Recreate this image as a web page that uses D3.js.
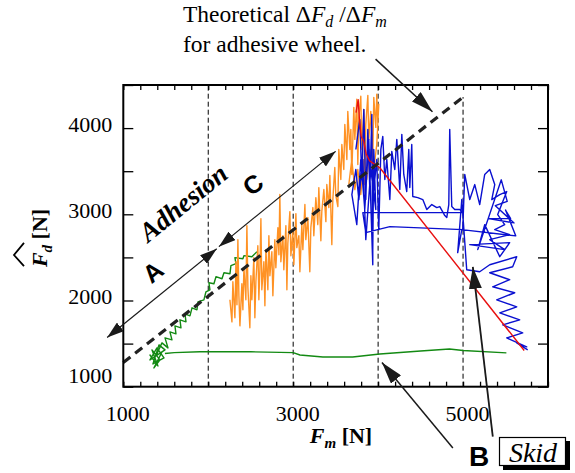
<!DOCTYPE html>
<html>
<head>
<meta charset="utf-8">
<script src="https://cdn.jsdelivr.net/npm/d3@7"></script>
<style>
body { margin: 0; background: #fff; }
svg { display: block; }
</style>
</head>
<body>
<svg width="575" height="473"></svg>
<script>
// tick labels
const xTicks = [1000, 3000, 5000]
const yTicks = [1000, 2000, 3000, 4000]
const gridX = [2000, 3000, 4000]
const gridXShort = [5000]

// theoretical dF_d / dF_m for an adhesive wheel
const theory = [[1000, 1280], [5000, 4360]]

// measured traces [F_m, F_d]
const greenRise = [[1373,1287],[1314,1368],[1408,1241],[1338,1427],[1432,1311],[1361,1218],[1455,1403],[1314,1311],
  [1396,1450],[1479,1334],[1349,1264],[1420,1485],[1491,1427],[1385,1357],[1455,1508],[1526,1450],[1491,1566],
  [1573,1543],[1549,1636],[1620,1613],[1608,1706],[1679,1683],[1667,1776],[1738,1752],[1726,1845],[1785,1822],
  [1809,1915],[1867,1892],[1879,1985],[1949,2008],[1973,2101],[2020,2124],[2008,2206],[2067,2194],[2091,2276],
  [2162,2252],[2185,2322],[2256,2311],[2267,2404],[2326,2427],[2314,2497],[2408,2485],[2420,2520],[2514,2508],
  [2573,2566]]

const greenFlat = [[1490,1385],[1600,1395],[1900,1405],[2500,1405],[3000,1395],[3080,1368],[3350,1345],
  [3700,1345],[4020,1380],[4500,1415],[4840,1438],[5000,1420],[5510,1392]]

const orange = [[2255,2008],[2279,1752],[2290,2217],[2314,1799],[2326,2450],[2338,1950],[2349,2706],[2361,2055],
  [2373,1706],[2396,2194],[2408,1892],[2420,2380],[2443,2008],[2455,2869],[2467,2148],[2490,1683],[2502,2287],
  [2514,2008],[2537,2497],[2549,1799],[2561,2217],[2584,2636],[2596,2008],[2608,2357],[2620,2950],[2631,2124],
  [2655,2450],[2667,1938],[2679,2590],[2702,2124],[2714,2752],[2726,2287],[2749,2566],[2761,2055],[2784,2706],
  [2796,2380],[2820,2845],[2832,2531],[2843,3229],[2855,2450],[2879,2752],[2890,2357],[2914,2869],[2926,2124],
  [2937,2659],[2961,3031],[2973,2520],[2996,2799],[3008,2415],[3032,3008],[3043,2613],[3067,2752],[3079,2334],
  [3102,2880],[3114,2590],[3138,3113],[3149,2706],[3173,2962],[3196,2334],[3208,2845],[3232,3078],[3243,2752],
  [3267,3194],[3290,2880],[3302,3310],[3326,2694],[3337,3031],[3361,3287],[3385,2915],[3396,3345],[3420,3078],
  [3432,3450],[3455,2648],[3467,3171],[3490,3543],[3502,3217],[3526,3090],[3537,3752],[3561,3404],[3573,3810],
  [3596,3520],[3608,4043],[3632,3636],[3643,4194],[3667,3752],[3679,3985],[3690,3462],[3714,4241],[3726,3869],
  [3749,4334],[3761,3578],[3773,4124],[3796,4369],[3808,3752],[3832,4217],[3843,3345],[3855,4043],[3879,4380],
  [3890,3869],[3914,4194],[3937,3636],[3949,4357],[3973,4008],[3984,4392],[3996,4101],[4008,4276],[3984,3810],
  [3949,3520],[3902,3752],[3867,3404],[3832,3636],[3796,3229],[3761,3520],[3726,3287],[3690,3636],[3655,3345]]

const blue = [[3738,3752],[3784,4101],[3808,3404],[3832,4217],[3855,3171],[3879,3985],[3902,3287],[3926,4159],
  [3937,2590],[3949,3752],[3973,3055],[3914,3520],[3855,2706],[3820,3636],[3773,3171],[3738,3520],[3691,3229],
  [3749,2880],[3796,3636],[3843,3055],[3890,3869],[3937,2415],[3937,3171],[3984,3636],[4008,2822],[4032,3752],
  [4055,3903],[4079,3404],[4102,3636],[4138,3171],[4161,3729],[4196,3520],[4220,3869],[4255,3287],[4279,3927],
  [4302,3462],[4337,3264],[4361,3752],[4373,3310],[4396,3810],[4408,3206],[4467,3194],[4526,3171],[4573,3055],
  [4632,3113],[4691,3078],[4726,3090],[4785,2985],[4808,2962],[4832,3113],[4843,3985],[4867,3090],[4902,3055],
  [4961,3055],[4996,3020],[3820,3020],[3855,2787],[4138,2857],[4996,2822],[5020,3462],[5079,3171],[5138,3345],
  [5196,3113],[5255,3462],[5314,3520],[5373,3345],[5338,3171],[5432,3229],[5514,3264],[5408,2997],[5490,2880],
  [5373,2822],[5549,2764],[5314,2706],[5490,2590],[5079,2648],[5549,2671],[5432,2508],[5255,2880],[5173,2590],
  [5450,3400],[5520,3150],[5380,3100],[5600,2900],[5300,2950],[5560,2950],[5500,3050],[5620,2750],
  [4985,2822],[4937,2555],[4985,3171],[5043,2357],[5196,2334],[5314,2415],[5632,2508],[5584,2392],[5314,2322],
  [5549,2241],[5349,2159],[5608,2090],[5396,2008],[5632,1927],[5432,1857],[5667,1776],[5467,1717],[5702,1624],
  [5514,1566],[5749,1462],[5632,1508],[5761,1427]]

const red = [[3740,4180],[3765,4330],[3780,4100],[3800,3900],[3830,3850],[3860,3700],[3900,3620],[4020,3540],[5720,1420]]

// annotation anchors in data units
const theoryArrow = [[3970, 4800], [4640, 4190]]
const bArrow = [[4880, 290], [4045, 1280]]
const skidArrow = [[5350, 420], [5115, 2390]]
const arrowA = [[810, 1570], [2100, 2600]]
const arrowC = [[2125, 2625], [3500, 3730]]
const labelA = [1350, 2330]
const labelC = [2526, 3345]
const labelAdhesion = [1703, 3136]

const serif = '"Liberation Serif", "Times New Roman", Times, serif'
const sans = '"Liberation Sans", Arial, Helvetica, sans-serif'

const svg = d3.select('svg')
const plot = {left: 123.3, right: 548, top: 85, bottom: 386.7}

const x = d3.scaleLinear().domain([1000, 6000]).range([plot.left, plot.right])
const y = d3.scaleLinear().domain([1000, 4500]).range([plot.bottom, plot.top])

const defs = svg.append('defs')
const marker = (id, w, l) => {
  defs.append('marker')
    .attr('id', id)
    .attr('viewBox', `0 ${-w / 2} ${l} ${w}`)
    .attr('refX', l).attr('refY', 0)
    .attr('markerWidth', l).attr('markerHeight', w)
    .attr('markerUnits', 'userSpaceOnUse')
    .attr('orient', 'auto-start-reverse')
    .append('path')
    .attr('d', `M0,${-w / 2}L${l},0L0,${w / 2}Z`)
    .attr('fill', '#1a1a1a')
}
marker('big', 13, 22)
marker('small', 11, 17)

// vertical guides
svg.append('g').selectAll('line')
  .data(gridX)
  .enter().append('line')
  .attr('x1', d => x(d)).attr('x2', d => x(d))
  .attr('y1', y(1000)).attr('y2', y(4500))
  .attr('stroke', '#000').attr('stroke-width', 1).attr('stroke-dasharray', '5,3')

svg.append('g').selectAll('line')
  .data(gridXShort)
  .enter().append('line')
  .attr('x1', d => x(d)).attr('x2', d => x(d))
  .attr('y1', y(1000)).attr('y2', y(theory[1][1]))
  .attr('stroke', '#000').attr('stroke-width', 1).attr('stroke-dasharray', '5,3')

const line = d3.line().x(d => x(d[0])).y(d => y(d[1]))

const traces = [
  {data: greenFlat, color: '#138a13'},
  {data: greenRise, color: '#138a13'},
  {data: orange, color: '#ff9224'},
  {data: blue, color: '#0a10d0'},
  {data: red, color: '#e81010'}
]
svg.append('g').selectAll('path')
  .data(traces)
  .enter().append('path')
  .attr('d', d => line(d.data))
  .attr('fill', 'none')
  .attr('stroke', d => d.color)
  .attr('stroke-width', 1.4)
  .attr('stroke-linejoin', 'round')

// theoretical line
svg.append('path')
  .attr('d', line(theory))
  .attr('fill', 'none')
  .attr('stroke', '#222')
  .attr('stroke-width', 3.2)
  .attr('stroke-dasharray', '9,6')

// frame and ticks
svg.append('rect')
  .attr('x', plot.left).attr('y', plot.top)
  .attr('width', plot.right - plot.left).attr('height', plot.bottom - plot.top)
  .attr('fill', 'none').attr('stroke', '#000').attr('stroke-width', 2)

const minorX = d3.range(1000, 6001, 200)
const minorY = d3.range(1000, 4501, 500)

const tickStyle = g => {
  g.select('.domain').remove()
  g.selectAll('line').attr('stroke', '#000').attr('stroke-width', 1.3)
}
svg.append('g').attr('transform', `translate(0,${plot.bottom})`)
  .call(d3.axisBottom(x).tickValues(minorX).tickSizeInner(-5).tickSizeOuter(0).tickFormat(''))
  .call(tickStyle)
svg.append('g').attr('transform', `translate(0,${plot.top})`)
  .call(d3.axisTop(x).tickValues(minorX).tickSizeInner(-5).tickSizeOuter(0).tickFormat(''))
  .call(tickStyle)
svg.append('g').attr('transform', `translate(${plot.left},0)`)
  .call(d3.axisLeft(y).tickValues(minorY).tickSizeInner(-10).tickSizeOuter(0).tickFormat(''))
  .call(tickStyle)
svg.append('g').attr('transform', `translate(${plot.right},0)`)
  .call(d3.axisRight(y).tickValues(minorY).tickSizeInner(-10).tickSizeOuter(0).tickFormat(''))
  .call(tickStyle)

// tick labels
const xLab = svg.append('g').attr('transform', `translate(0,${plot.bottom})`)
  .call(d3.axisBottom(x).tickValues(xTicks).tickSize(0).tickPadding(19).tickFormat(d3.format('d')))
xLab.select('.domain').remove()
xLab.selectAll('text').attr('font-family', serif).attr('font-size', 22).attr('fill', '#000').attr('dx', 4)

const yLab = svg.append('g').attr('transform', `translate(${plot.left},0)`)
  .call(d3.axisLeft(y).tickValues(yTicks).tickSize(0).tickPadding(11).tickFormat(d3.format('d')))
yLab.select('.domain').remove()
yLab.selectAll('text').attr('font-family', serif).attr('font-size', 22).attr('fill', '#000')
  .attr('dy', d => d === 1000 ? '-0.2em' : '0.15em')

// axis titles
const xt = svg.append('text')
  .attr('x', 341).attr('y', 443)
  .attr('text-anchor', 'middle')
  .attr('font-family', serif).attr('font-weight', 'bold').attr('font-size', 22)
xt.append('tspan').attr('font-style', 'italic').text('F')
xt.append('tspan').attr('font-style', 'italic').attr('font-size', 15).attr('dy', 5).text('m')
xt.append('tspan').attr('dy', -5).text(' [N]')

const yg = svg.append('g').attr('transform', 'translate(47,238) rotate(-90)')
const yt = yg.append('text')
  .attr('x', 0).attr('y', 0)
  .attr('text-anchor', 'middle')
  .attr('font-family', serif).attr('font-weight', 'bold').attr('font-size', 22)
yt.append('tspan').attr('font-style', 'italic').text('F')
yt.append('tspan').attr('font-style', 'italic').attr('font-size', 15).attr('dy', 5).text('d')
yt.append('tspan').attr('dy', -5).text(' [N]')
const fStart = yt.node().getStartPositionOfChar(0).x
const fEnd = yt.node().getEndPositionOfChar(1).x
yg.append('path')
  .attr('d', `M${fStart + 1},-23L${(fStart + fEnd) / 2 + 1},-33L${fEnd + 2},-23`)
  .attr('fill', 'none').attr('stroke', '#000').attr('stroke-width', 1.8)

// top annotation
const t1 = svg.append('text')
  .attr('x', 183).attr('y', 22)
  .attr('font-family', serif).attr('font-size', 23.5)
t1.append('tspan').text('Theoretical \u0394')
t1.append('tspan').attr('font-style', 'italic').text('F')
t1.append('tspan').attr('font-style', 'italic').attr('font-size', 16).attr('dy', 5).text('d')
t1.append('tspan').attr('dy', -5).text(' /\u0394')
t1.append('tspan').attr('font-style', 'italic').text('F')
t1.append('tspan').attr('font-style', 'italic').attr('font-size', 16).attr('dy', 5).text('m')
svg.append('text')
  .attr('x', 183).attr('y', 52)
  .attr('font-family', serif).attr('font-size', 23.5)
  .text('for adhesive wheel.')

// arrows
const arrow = (pts, start, end, w) => svg.append('path')
  .attr('d', line(pts))
  .attr('stroke', '#1a1a1a').attr('stroke-width', w).attr('fill', 'none')
  .attr('marker-start', start ? `url(#${start})` : null)
  .attr('marker-end', end ? `url(#${end})` : null)

arrow(theoryArrow, null, 'big', 1.5)
arrow(bArrow, null, 'big', 1.5)
arrow(skidArrow, null, 'big', 1.8)
arrow(arrowA, 'small', 'small', 1.2)
arrow(arrowC, 'small', 'small', 1.2)

// region labels
const ang = Math.atan2(y(arrowC[1][1]) - y(arrowA[0][1]), x(arrowC[1][0]) - x(arrowA[0][0])) * 180 / Math.PI
const rotLabel = (pos, txt, fam, size, italic) => svg.append('text')
  .attr('transform', `translate(${x(pos[0])},${y(pos[1])}) rotate(${ang})`)
  .attr('text-anchor', 'middle').attr('dy', '0.35em')
  .attr('font-family', fam).attr('font-weight', 'bold').attr('font-size', size)
  .attr('font-style', italic ? 'italic' : 'normal')
  .text(txt)
rotLabel(labelA, 'A', sans, 25, false)
rotLabel(labelC, 'C', sans, 25, false)
rotLabel(labelAdhesion, 'Adhesion', serif, 27, true)

// B / Skid
svg.append('text')
  .attr('x', 469).attr('y', 466)
  .attr('font-family', sans).attr('font-weight', 'bold').attr('font-size', 28)
  .text('B')
svg.append('rect').attr('x', 503).attr('y', 441).attr('width', 67).attr('height', 29).attr('fill', '#000')
svg.append('rect').attr('x', 499.5).attr('y', 437.5).attr('width', 66).attr('height', 28)
  .attr('fill', '#fff').attr('stroke', '#000').attr('stroke-width', 1.2)
svg.append('text')
  .attr('x', 533).attr('y', 462)
  .attr('text-anchor', 'middle')
  .attr('font-family', serif).attr('font-style', 'italic').attr('font-size', 28)
  .text('Skid')
</script>
</body>
</html>
